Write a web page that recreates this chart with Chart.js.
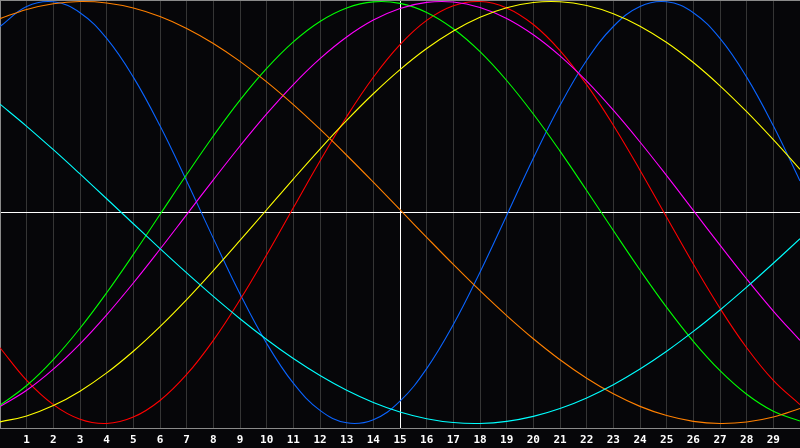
<!DOCTYPE html>
<html><head><meta charset="utf-8">
<script src="https://cdn.jsdelivr.net/npm/chart.js@4"></script>
<style>html,body{margin:0;padding:0;background:#060609;}#wrap{width:800px;height:448px;}</style>
</head><body><div id="wrap"><canvas id="c" width="800" height="448"></canvas></div>
<script>
const days = [0,1,2,3,4,5,6,7,8,9,10,11,12,13,14,15,16,17,18,19,20,21,22,23,24,25,26,27,28,29,30];
const tickLabels = ['', '1','2','3','4','5','6','7','8','9','10','11','12','13','14','15','16','17','18','19','20','21','22','23','24','25','26','27','28','29',''];
const blue = [0.8815,0.9762,0.9985,0.9468,0.8250,0.6417,0.4109,0.1497,-0.1226,-0.3857,-0.6204,-0.8090,-0.9376,-0.9966,-0.9818,-0.8941,-0.7400,-0.5313,-0.2830,-0.0138,0.2566,0.5078,0.7217,0.8815,0.9762,0.9985,0.9468,0.8250,0.6417,0.4109,0.1497];
const orange = [0.9188,0.9625,0.9897,0.9999,0.9931,0.9692,0.9288,0.8725,0.8013,0.7163,0.6191,0.5113,0.3947,0.2714,0.1435,0.0131,-0.1175,-0.2462,-0.3706,-0.4886,-0.5983,-0.6978,-0.7853,-0.8594,-0.9188,-0.9625,-0.9897,-0.9999,-0.9931,-0.9692,-0.9288];
const cyan = [0.5136,0.4085,0.2977,0.1827,0.0652,-0.0534,-0.1711,-0.2864,-0.3977,-0.5035,-0.6021,-0.6923,-0.7727,-0.8425,-0.9002,-0.9454,-0.9773,-0.9955,-0.9997,-0.9899,-0.9662,-0.9289,-0.8786,-0.8159,-0.7418,-0.6574,-0.5636,-0.4619,-0.3537,-0.2406,-0.1241];
const green = [-0.9135,-0.8200,-0.6970,-0.5486,-0.3805,-0.1986,-0.0095,0.1799,0.3628,0.5326,0.6831,0.8090,0.9056,0.9695,0.9984,0.9911,0.9481,0.8708,0.7622,0.6256,0.4667,0.2908,0.1045,-0.0856,-0.2726,-0.4497,-0.6106,-0.7496,-0.8612,-0.9418,-0.9884];
const magenta = [-0.9197,-0.8425,-0.7422,-0.6221,-0.4847,-0.3341,-0.1743,-0.0099,0.1548,0.3153,0.4672,0.6064,0.7290,0.8317,0.9118,0.9669,0.9957,0.9974,0.9718,0.9198,0.8425,0.7423,0.6222,0.4847,0.3341,0.1745,0.0099,-0.1547,-0.3152,-0.4672,-0.6063];
const red = [-0.6409,-0.7956,-0.9105,-0.9797,-0.9997,-0.9697,-0.8910,-0.7677,-0.6058,-0.4136,-0.2006,0.0224,0.2443,0.4540,0.6409,0.7956,0.9105,0.9797,0.9997,0.9697,0.8910,0.7677,0.6058,0.4136,0.2006,-0.0224,-0.2443,-0.4540,-0.6409,-0.7956,-0.9105];
const yellow = [-0.9925,-0.9641,-0.9151,-0.8467,-0.7603,-0.6576,-0.5407,-0.4125,-0.2755,-0.1326,0.0131,0.1587,0.3007,0.4363,0.5627,0.6771,0.7771,0.8604,0.9254,0.9707,0.9954,0.9988,0.9809,0.9421,0.8832,0.8056,0.7107,0.6005,0.4777,0.3448,0.2045];

const seriesList = [
  {name:'cyan', data:cyan, color:'#00ffff'},
  {name:'orange', data:orange, color:'#ff8000'},
  {name:'yellow', data:yellow, color:'#ffff00'},
  {name:'magenta', data:magenta, color:'#ff00ff'},
  {name:'green', data:green, color:'#00ff00'},
  {name:'red', data:red, color:'#ff0000'},
  {name:'blue', data:blue, color:'#0a64ff'}
];

const bgPlugin = {
  id:'bg',
  beforeDraw(chart){
    const ctx = chart.ctx;
    ctx.save();
    ctx.fillStyle = '#060609';
    ctx.fillRect(0,0,chart.width,chart.height);
    ctx.restore();
  },
  afterDraw(chart){
    const ctx = chart.ctx, a = chart.chartArea;
    ctx.save();
    ctx.strokeStyle = '#8a8a8a';
    ctx.lineWidth = 1;
    ctx.beginPath();
    ctx.moveTo(a.left, a.top + 0.5);
    ctx.lineTo(a.right, a.top + 0.5);
    ctx.stroke();
    ctx.restore();
  }
};

new Chart(document.getElementById('c'), {
  type:'line',
  data:{
    datasets: seriesList.map(s => ({
      label:s.name,
      data: days.map((d,i) => ({x:d, y:s.data[i]})),
      borderColor:s.color,
      borderWidth:1.1,
      pointRadius:0,
      tension:0.4,
      fill:false
    }))
  },
  options:{
    responsive:false,
    devicePixelRatio:1,
    animation:false,
    layout:{padding:0},
    plugins:{legend:{display:false}, tooltip:{enabled:false}},
    scales:{
      x:{
        type:'linear', min:0, max:30,
        afterFit(scale){ scale.height = 20; scale.paddingLeft = 0; scale.paddingRight = 0; },
        afterBuildTicks(scale){ scale.ticks = days.map(d => ({value:d})); },
        ticks:{
          autoSkip:false, maxRotation:0, padding:6,
          color:'#ffffff',
          font:{family:'DejaVu Sans Mono', size:11, weight:'bold'},
          callback:(v, i) => tickLabels[i]
        },
        grid:{
          drawTicks:false,
          color: c => c.tick && c.tick.value === 15 ? '#ffffff' : ((c.tick && (c.tick.value === 0 || c.tick.value === 30)) ? 'rgba(0,0,0,0)' : '#353535'),
          lineWidth:1
        },
        border:{display:true, color:'#8a8a8a', width:1}
      },
      y:{
        min:-1.0213, max:1.0071,
        afterFit(scale){ scale.width = 0; scale.paddingTop = 0; scale.paddingBottom = 0; },
        afterBuildTicks(scale){ scale.ticks = [{value:0}]; },
        ticks:{display:false},
        grid:{drawTicks:false, color:'#ffffff', lineWidth:1},
        border:{display:true, color:'#8a8a8a', width:1}
      }
    }
  },
  plugins:[bgPlugin]
});
</script>
</body></html>
